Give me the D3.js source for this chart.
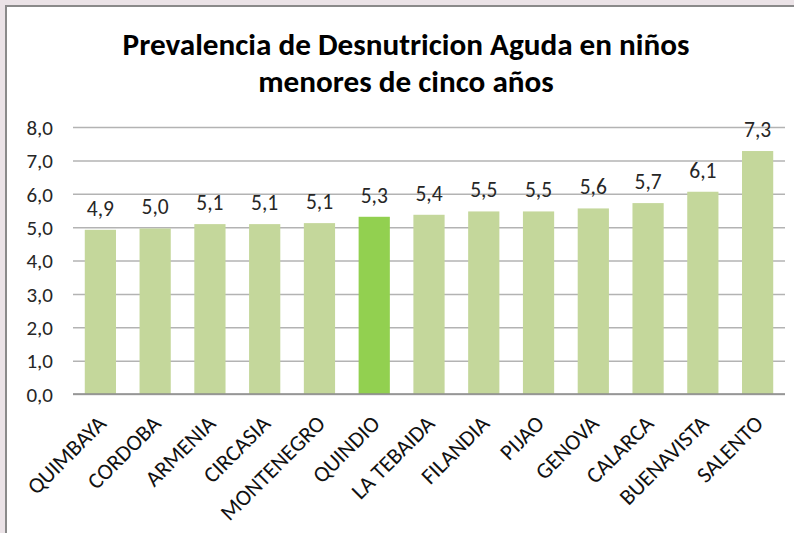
<!DOCTYPE html>
<html><head><meta charset="utf-8">
<script src="https://cdn.jsdelivr.net/npm/d3@7"></script>
<style>
html,body{margin:0;padding:0;background:#fff;}
svg{display:block;}
</style></head>
<body>
<svg id="c" width="794" height="533"></svg>
<script>
const categories = ["QUIMBAYA","CORDOBA","ARMENIA","CIRCASIA","MONTENEGRO","QUINDIO","LA TEBAIDA","FILANDIA","PIJAO","GENOVA","CALARCA","BUENAVISTA","SALENTO"];
const values = [4.92, 4.96, 5.09, 5.09, 5.12, 5.31, 5.37, 5.47, 5.47, 5.56, 5.72, 6.06, 7.28];
const highlighted = ["QUINDIO"];
const yTicks = [0,1,2,3,4,5,6,7,8];
const titleLines = ["Prevalencia de Desnutricion Aguda en niños","menores de cinco años"];

const svg = d3.select("#c");
const W = 794, H = 533;
const fmt = v => v.toFixed(1).replace(".", ",");
const FONT = '"Carlito", "Calibri", "Lato"';

// outer background & frame
svg.append("rect").attr("width", W).attr("height", H).attr("fill", "#ebe3e7");
svg.append("rect").attr("x", 7).attr("y", 7).attr("width", W).attr("height", H).attr("fill", "#fff");
svg.append("line").attr("x1", 6).attr("x2", 6).attr("y1", 6).attr("y2", H).attr("stroke", "#8a8a8a").attr("stroke-width", 2);
svg.append("line").attr("x1", 5).attr("x2", W).attr("y1", 6).attr("y2", 6).attr("stroke", "#8a8a8a").attr("stroke-width", 2);

const m = {left: 73, right: 9, top: 127, bottom: 139};
const x = d3.scaleBand().domain(categories).range([m.left, W - m.right]).paddingInner(0.43).paddingOuter(0.215);
const y = d3.scaleLinear().domain([0, 8]).range([H - m.bottom, m.top]);

// title (sized so the first line spans the reference width)
const titleEls = titleLines.map((t, i) =>
  svg.append("text").attr("x", 406).attr("y", 55 + i * 37).attr("text-anchor", "middle")
    .style("font-family", FONT).style("font-size", "28px").style("font-weight", "bold")
    .attr("fill", "#000").text(t));
const l0 = titleEls[0].node().getComputedTextLength();
const ts = l0 > 0 ? 28 * 567 / l0 : 28;
titleEls.forEach(e => e.style("font-size", ts + "px"));

// gridlines + y ticks
const yAxis = d3.axisLeft(y).tickValues(yTicks).tickFormat(fmt).tickSize(-(W - m.right - m.left)).tickPadding(20);
const gy = svg.append("g").attr("transform", `translate(${m.left},0)`).call(yAxis);
gy.select(".domain").remove();
gy.selectAll(".tick line").attr("stroke", "#b3b3b3").attr("stroke-width", 1.5);
gy.selectAll(".tick text").style("font-size", "21px").style("font-family", FONT).attr("fill", "#262626").attr("dy", "0.35em");

// bars
svg.append("g").selectAll("rect").data(categories).join("rect")
  .attr("x", d => x(d)).attr("width", x.bandwidth())
  .attr("y", (d, i) => y(values[i])).attr("height", (d, i) => y(0) - y(values[i]))
  .attr("fill", d => highlighted.includes(d) ? "#92d050" : "#c4d79b");

// baseline
svg.append("line").attr("x1", m.left).attr("x2", W - m.right).attr("y1", y(0)).attr("y2", y(0)).attr("stroke", "#8c8c8c").attr("stroke-width", 1.5);

// data labels
svg.append("g").selectAll("text").data(categories).join("text")
  .attr("x", d => x(d) + x.bandwidth() / 2).attr("y", (d, i) => y(values[i]) - 14)
  .attr("text-anchor", "middle").style("font-size", "21.5px").style("font-family", FONT).attr("fill", "#262626")
  .text((d, i) => fmt(values[i]));

// x axis labels
const xAxis = d3.axisBottom(x).tickSize(0).tickPadding(0);
const gx = svg.append("g").attr("transform", `translate(0,${y(0)})`).call(xAxis);
gx.select(".domain").remove();
gx.selectAll(".tick text").style("font-size", "22.5px").style("font-family", FONT).attr("fill", "#111")
  .attr("text-anchor", "end").attr("dy", null).attr("y", null)
  .attr("transform", "translate(7,31) rotate(-45)");
</script>
</body></html>
